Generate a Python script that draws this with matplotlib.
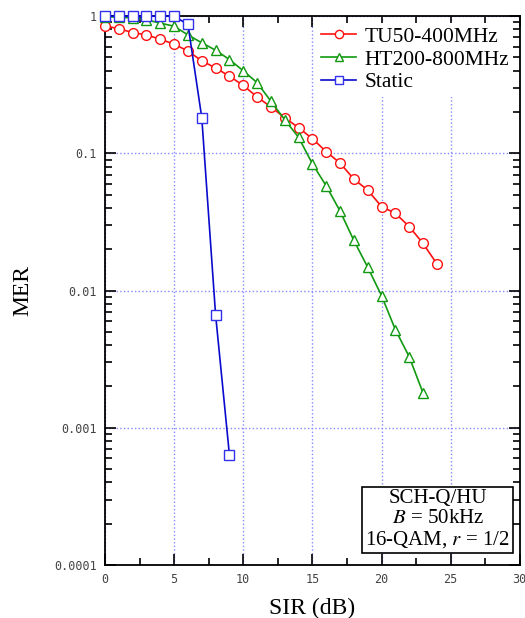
import numpy as np
import matplotlib
matplotlib.use("Agg")
import matplotlib.pyplot as plt
from matplotlib.ticker import FixedLocator, LogLocator, NullFormatter, MultipleLocator

plt.rcParams["mathtext.fontset"] = "stix"

# data
sir_tu = list(range(0, 25))
mer_tu = [0.85, 0.81, 0.76, 0.73, 0.68, 0.625, 0.558, 0.472, 0.42, 0.365,
          0.313, 0.258, 0.218, 0.182, 0.154, 0.128, 0.103, 0.085, 0.065,
          0.054, 0.041, 0.0366, 0.0293, 0.0221, 0.0157]

sir_ht = list(range(0, 24))
mer_ht = [0.99, 0.985, 0.97, 0.94, 0.89, 0.845, 0.73, 0.64, 0.565, 0.483,
          0.40, 0.328, 0.24, 0.176, 0.131, 0.084, 0.058, 0.038, 0.0232,
          0.0148, 0.0092, 0.0052, 0.0033, 0.0018]

sir_st = list(range(0, 10))
mer_st = [1.0, 1.0, 1.0, 1.0, 1.0, 1.0, 0.87, 0.182, 0.00665, 0.000635]

y_ticks = [1, 0.1, 0.01, 0.001, 0.0001]
y_labels = ["1", "0.1", "0.01", "0.001", "0.0001"]

fig = plt.figure(figsize=(5.25, 6.18), dpi=100)
ax = fig.add_axes([0.2, 0.0858, 0.79, 0.888])

mk = dict(markersize=7, markerfacecolor="white", markeredgewidth=1.0,
          linewidth=1.2, clip_on=False)
ax.plot(sir_tu, mer_tu, "-o", color="#ff1010", label="TU50-400MHz", zorder=3, **mk)
ax.plot(sir_ht, mer_ht, "-^", color="#119911", label="HT200-800MHz", zorder=4, **mk)
ax.plot(sir_st, mer_st, "-s", color="#0a0acc", markeredgecolor="#3030ee",
        label="Static", zorder=5, **mk)

ax.set_yscale("log")
ax.set_xlim(0, 30)
ax.set_ylim(0.0001, 1)

ax.xaxis.set_major_locator(MultipleLocator(5))
ax.xaxis.set_minor_locator(MultipleLocator(2.5))
ax.yaxis.set_major_locator(FixedLocator(y_ticks))
ax.set_yticklabels(y_labels)
ax.yaxis.set_minor_locator(LogLocator(base=10, subs=np.arange(2, 10)))
ax.yaxis.set_minor_formatter(NullFormatter())

for lab in ax.get_xticklabels() + ax.get_yticklabels():
    lab.set_fontfamily("DejaVu Sans Mono")
    lab.set_fontsize(8.5)
    lab.set_color("#444444")

ax.tick_params(which="both", direction="in", top=True, right=True, width=1.2)
ax.tick_params(which="major", length=8, pad=6)
ax.tick_params(which="minor", length=5)
for sp in ax.spines.values():
    sp.set_linewidth(1.3)

ax.grid(True, which="major", color="#8888ff", linestyle=":", linewidth=1.0)

ax.set_xlabel("SIR (dB)", family="Liberation Serif", fontsize=17, labelpad=8)
ax.set_ylabel("MER", family="Liberation Serif", fontsize=17, labelpad=15)

leg = ax.legend(loc="upper right", prop={"family": "Liberation Serif", "size": 15.5},
                frameon=True, fancybox=False, edgecolor="none", facecolor="white",
                framealpha=1.0, handlelength=1.6, borderpad=0.2, labelspacing=0.12,
                handletextpad=0.4, borderaxespad=0.3, markerscale=0.85)
leg.set_zorder(6)

ax.text(0.977, 0.028, "SCH-Q/HU\n$B$ = 50kHz\n16-QAM, $r$ = 1/2",
        transform=ax.transAxes, ha="right", va="bottom", multialignment="center",
        family="Liberation Serif", fontsize=15, linespacing=1.05,
        bbox=dict(boxstyle="square,pad=0.15", facecolor="white", edgecolor="black",
                  linewidth=1.2), zorder=7)

fig.savefig("out.png", dpi=100)
